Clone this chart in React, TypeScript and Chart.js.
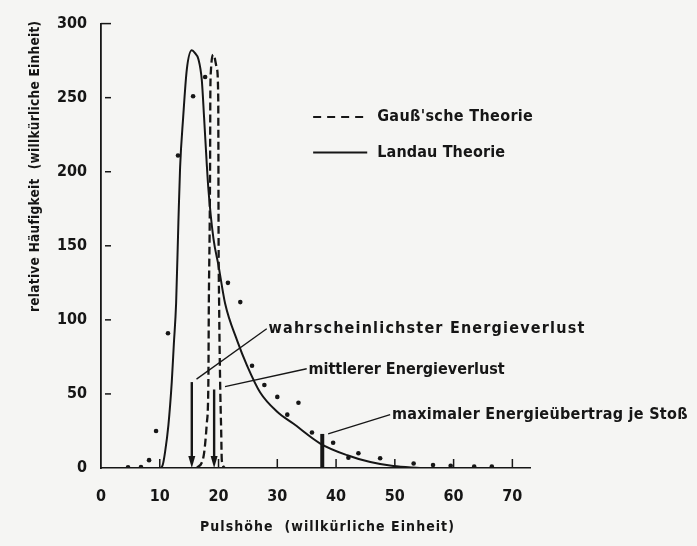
import React, { useEffect, useRef } from 'react';
import { Chart, registerables } from 'chart.js';

Chart.register(...registerables);

// Axis ticks
const xTickValues = [0, 10, 20, 30, 40, 50, 60, 70];
const yTickValues = [0, 50, 100, 150, 200, 250, 300];

// Landau theory (solid curve)
const landauX = [9.5, 10.05, 10.5, 10.9, 11.47, 12.04, 12.4, 12.78, 13.17, 13.46, 13.97, 14.6, 15.45, 16.0, 16.58, 17.15, 17.55, 18.0, 18.28, 19.13, 19.98, 21.12, 23.17, 24.87, 27.09, 29.98, 32.71, 37.31, 41.91, 45.83, 49.74, 54.3];
const landauY = [0, 0, 2, 10.7, 29, 58, 84, 111, 166, 203, 236, 269, 282, 280, 276, 262, 236, 205, 188, 155, 137, 111, 86, 69, 51, 38, 30, 16.5, 8.6, 4, 1.3, 0];

// Gaussian theory (dashed curve)
const gaussX = [16.3, 17.43, 18.0, 18.27, 18.35, 18.5, 18.57, 18.6, 18.7, 19.13, 19.7, 19.95, 19.98, 20.0, 20.1, 20.27, 20.45, 20.56, 21.12];
const gaussY = [0, 7.4, 30, 58, 111, 166, 210, 250, 268, 279, 270, 250, 210, 166, 111, 58, 25, 5, 0];

// Measured pulse heights (dots)
const dotsX = [4.6, 6.8, 8.18, 9.37, 11.4, 13.1, 15.67, 17.72, 21.6, 23.7, 25.7, 27.8, 30.0, 31.7, 33.6, 35.9, 39.5, 42.1, 43.8, 47.5, 53.2, 56.5, 59.5, 63.5, 66.5];
const dotsY = [0.5, 0.7, 5.3, 25, 91, 211, 251, 264, 125, 112, 69, 56, 48, 36, 44, 24, 17, 7, 10, 6.6, 3, 2, 1.5, 1, 1];

// Marked energy values
const modeX = 15.45; // wahrscheinlichster Energieverlust
const modeTop = 58;
const meanX = 19.25; // mittlerer Energieverlust
const meanTop = 53;
const maxTransferX = 37.65; // maximaler Energieübertrag je Stoß
const maxTransferTop = 23;

const PAPER = '#f5f5f3';
const INK = '#161616';
const FONT = "'DejaVu Sans Condensed', 'Liberation Sans Narrow', 'Noto Sans', sans-serif";

const toPoints = (xs: number[], ys: number[]) => xs.map((x, i) => ({ x, y: ys[i] }));

// Draws text so that it spans roughly the given width by adjusting letter spacing.
function spacedText(ctx: CanvasRenderingContext2D, text: string, x: number, y: number, width: number) {
  (ctx as any).letterSpacing = '0px';
  const w = ctx.measureText(text).width;
  const gap = Math.max(0, (width - w) / Math.max(1, text.length));
  (ctx as any).letterSpacing = `${gap}px`;
  ctx.fillText(text, x, y);
  (ctx as any).letterSpacing = '0px';
}

const overlayPlugin = {
  id: 'overlay',
  beforeDraw(chart: any) {
    const { ctx, width, height } = chart;
    ctx.save();
    ctx.fillStyle = PAPER;
    ctx.fillRect(0, 0, width, height);
    ctx.restore();
  },
  afterDraw(chart: any) {
    const ctx: CanvasRenderingContext2D = chart.ctx;
    const xs = chart.scales.x;
    const ys = chart.scales.y;
    const area = chart.chartArea;
    const X = (v: number) => xs.getPixelForValue(v);
    const Y = (v: number) => ys.getPixelForValue(v);

    ctx.save();
    ctx.strokeStyle = INK;
    ctx.fillStyle = INK;

    // inner tick marks
    ctx.lineWidth = 1.5;
    yTickValues.filter((v) => v > 0).forEach((v) => {
      const py = Y(v);
      ctx.beginPath();
      ctx.moveTo(area.left + (v === 300 ? 0 : 4), py);
      ctx.lineTo(area.left + 10, py);
      ctx.stroke();
    });
    xTickValues.filter((v) => v > 0).forEach((v) => {
      const px = X(v);
      ctx.beginPath();
      ctx.moveTo(px, area.bottom);
      ctx.lineTo(px, area.bottom - 9);
      ctx.stroke();
    });

    // arrows for most probable and mean energy loss
    const arrow = (v: number, top: number) => {
      const px = X(v);
      const base = Y(0);
      ctx.lineWidth = 2.4;
      ctx.beginPath();
      ctx.moveTo(px, Y(top));
      ctx.lineTo(px, base - 10);
      ctx.stroke();
      ctx.beginPath();
      ctx.moveTo(px - 3.5, base - 12);
      ctx.lineTo(px + 3.5, base - 12);
      ctx.lineTo(px, base);
      ctx.closePath();
      ctx.fill();
    };
    arrow(modeX, modeTop);
    arrow(meanX, meanTop);

    // bar for the maximum energy transfer per collision
    ctx.lineWidth = 4;
    ctx.beginPath();
    ctx.moveTo(X(maxTransferX), Y(maxTransferTop));
    ctx.lineTo(X(maxTransferX), Y(0));
    ctx.stroke();

    // leader lines
    ctx.lineWidth = 1.3;
    const leader = (x0: number, y0: number, x1: number, y1: number) => {
      ctx.beginPath();
      ctx.moveTo(X(x0), Y(y0));
      ctx.lineTo(X(x1), Y(y1));
      ctx.stroke();
    };
    leader(modeX + 0.8, modeTop + 2, 28.2, 94);
    leader(21.1, 55, 35.0, 67);
    leader(maxTransferX + 1.0, maxTransferTop, 49.2, 36);

    // annotation labels
    ctx.font = `bold 16px ${FONT}`;
    ctx.textAlign = 'left';
    ctx.textBaseline = 'middle';
    spacedText(ctx, 'wahrscheinlichster Energieverlust', X(28.5), Y(94), 317);
    spacedText(ctx, 'mittlerer Energieverlust', X(35.3), Y(66), 196);
    spacedText(ctx, 'maximaler Energieübertrag je Stoß', X(49.5), Y(36), 296);

    // legend
    ctx.lineWidth = 2;
    ctx.setLineDash([8, 6]);
    ctx.beginPath();
    ctx.moveTo(X(36.1), Y(237));
    ctx.lineTo(X(45.3), Y(237));
    ctx.stroke();
    ctx.setLineDash([]);
    ctx.beginPath();
    ctx.moveTo(X(36.1), Y(213));
    ctx.lineTo(X(45.3), Y(213));
    ctx.stroke();
    spacedText(ctx, "Gauß'sche Theorie", X(47.0), Y(237), 156);
    spacedText(ctx, 'Landau Theorie', X(47.0), Y(213), 128);

    // axis titles
    ctx.font = `bold 14px ${FONT}`;
    ctx.textAlign = 'left';
    ctx.textBaseline = 'middle';
    spacedText(ctx, 'Pulshöhe  (willkürliche Einheit)', 200, 527, 255);
    ctx.font = `bold 13.5px ${FONT}`;
    ctx.translate(35, 167);
    ctx.rotate(-Math.PI / 2);
    spacedText(ctx, 'relative Häufigkeit  (willkürliche Einheit)', -145, 0, 291);
    ctx.restore();
  },
};

export default function App() {
  const canvasRef = useRef<HTMLCanvasElement>(null);

  useEffect(() => {
    const canvas = canvasRef.current;
    if (!canvas) return;
    const tickFont = { family: FONT, size: 16, weight: 'bold' };
    const chart = new Chart(canvas, {
      type: 'line',
      data: {
        datasets: [
          {
            label: 'Messwerte',
            data: toPoints(dotsX, dotsY),
            showLine: false,
            pointRadius: 2.3,
            pointBorderWidth: 0,
            pointBackgroundColor: INK,
            borderColor: INK,
          },
          {
            label: 'Landau Theorie',
            data: toPoints(landauX, landauY),
            borderColor: INK,
            borderWidth: 2,
            pointRadius: 0,
            cubicInterpolationMode: 'monotone',
            fill: false,
          },
          {
            label: "Gauß'sche Theorie",
            data: toPoints(gaussX, gaussY),
            borderColor: INK,
            borderWidth: 2.3,
            borderDash: [8, 4],
            pointRadius: 0,
            cubicInterpolationMode: 'monotone',
            fill: false,
          },
        ],
      },
      options: {
        responsive: false,
        animation: false,
        devicePixelRatio: 1,
        layout: { padding: { left: 46, top: 13, right: 167, bottom: 38 } },
        plugins: {
          legend: { display: false },
          tooltip: { enabled: false },
        },
        scales: {
          x: {
            type: 'linear',
            min: 0,
            max: 73,
            afterFit: (s: any) => {
              s.height = 40;
            },
            afterBuildTicks: (s: any) => {
              s.ticks = xTickValues.map((value) => ({ value }));
            },
            ticks: { font: tickFont, color: INK, padding: 19, maxRotation: 0 },
            grid: { display: false, drawTicks: false },
            border: { display: true, color: INK, width: 1.5 },
          },
          y: {
            type: 'linear',
            min: 0,
            max: 300,
            afterFit: (s: any) => {
              s.width = 55;
            },
            afterBuildTicks: (s: any) => {
              s.ticks = yTickValues.map((value) => ({ value }));
            },
            ticks: { font: tickFont, color: INK, padding: 14 },
            grid: { display: false, drawTicks: false },
            border: { display: true, color: INK, width: 1.8 },
          },
        },
      },
      plugins: [overlayPlugin],
    } as any);
    return () => chart.destroy();
  }, []);

  return (
    <div style={{ position: 'absolute', left: 0, top: 0, width: 697, height: 546, background: PAPER }}>
      <canvas ref={canvasRef} width={697} height={546} style={{ display: 'block', width: 697, height: 546 }} />
    </div>
  );
}
